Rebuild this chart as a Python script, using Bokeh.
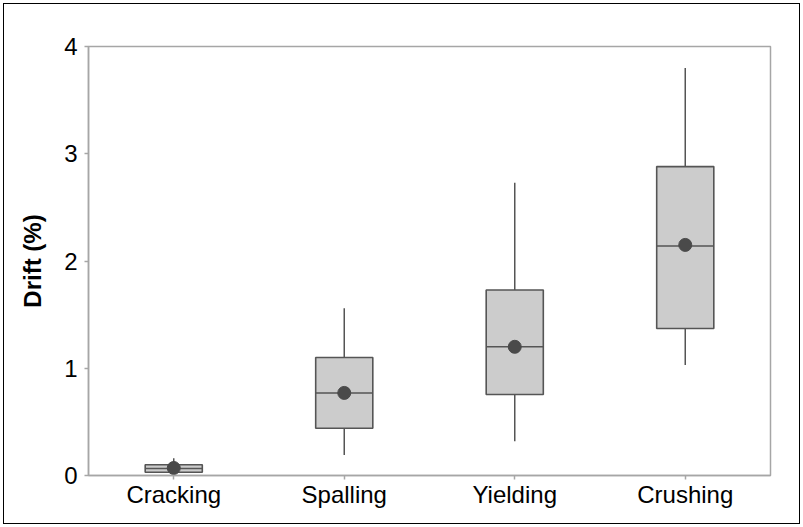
from bokeh.plotting import figure
from bokeh.models import FactorRange, Range1d, ColumnDataSource, FixedTicker
from bokeh.transform import dodge
from bokeh.embed import file_html
from bokeh.resources import INLINE

categories = ["Cracking", "Spalling", "Yielding", "Crushing"]
whisker_low = [0.03, 0.19, 0.32, 1.03]
q1 = [0.03, 0.44, 0.755, 1.37]
median = [0.065, 0.77, 1.20, 2.14]
q3 = [0.10, 1.10, 1.73, 2.88]
whisker_high = [0.16, 1.56, 2.73, 3.80]
mean = [0.07, 0.77, 1.20, 2.15]
y_ticks = [0, 1, 2, 3, 4]

src = ColumnDataSource(dict(cat=categories, lo=whisker_low, q1=q1, med=median,
                            q3=q3, hi=whisker_high, mean=mean))

W = 802
H = 526
p = figure(width=W, height=H, x_range=FactorRange(factors=categories, range_padding=0),
           y_range=Range1d(0, 4), output_backend="svg", toolbar_location=None,
           min_border_left=88, min_border_right=W - 88 - 682,
           min_border_top=46, min_border_bottom=H - 46 - 429)
p.stylesheets = [":host { position: relative; } "
                 ":host::after { content: ''; position: absolute; left: 3px; top: 3px; "
                 "right: 2px; bottom: 2px; border: 1.5px solid #000; "
                 "pointer-events: none; z-index: 1000; }"]

p.xgrid.visible = False
p.ygrid.visible = False
p.outline_line_color = "#a6a6a6"
p.outline_line_width = 1.5

line_c = "#555555"
box_w = 0.335

p.segment(x0="cat", y0="lo", x1="cat", y1="q1", source=src, line_color=line_c, line_width=1.5)
p.segment(x0="cat", y0="q3", x1="cat", y1="hi", source=src, line_color=line_c, line_width=1.5)
p.vbar(x="cat", bottom="q1", top="q3", width=box_w, source=src,
       fill_color="#cccccc", line_color=line_c, line_width=1.6)
p.segment(x0=dodge("cat", -box_w / 2, range=p.x_range), y0="med",
          x1=dodge("cat", box_w / 2, range=p.x_range), y1="med",
          source=src, line_color=line_c, line_width=1.5)
p.scatter(x="cat", y="mean", source=src, size=13, fill_color="#4a4a4a", line_color="#4a4a4a")

for ax in (p.xaxis[0], p.yaxis[0]):
    ax.axis_line_color = "#a6a6a6"
    ax.axis_line_width = 1.5
    ax.major_tick_line_color = "#a6a6a6"
    ax.major_tick_line_width = 1.5
    ax.major_tick_out = 4
    ax.major_tick_in = 0
    ax.minor_tick_line_color = None
    ax.major_label_text_font = "Liberation Sans"
    ax.major_label_text_font_size = "24px"
    ax.major_label_text_color = "#000000"

p.yaxis.ticker = FixedTicker(ticks=y_ticks)
p.yaxis.major_label_standoff = 7
p.xaxis.major_label_standoff = 1
p.yaxis.axis_label = "Drift (%)"
p.yaxis.axis_label_text_font = "Liberation Sans"
p.yaxis.axis_label_text_font_size = "24px"
p.yaxis.axis_label_text_font_style = "bold"
p.yaxis.axis_label_text_color = "#000000"
p.yaxis.axis_label_standoff = 15

open("out.html", "w").write(file_html(p, INLINE))
